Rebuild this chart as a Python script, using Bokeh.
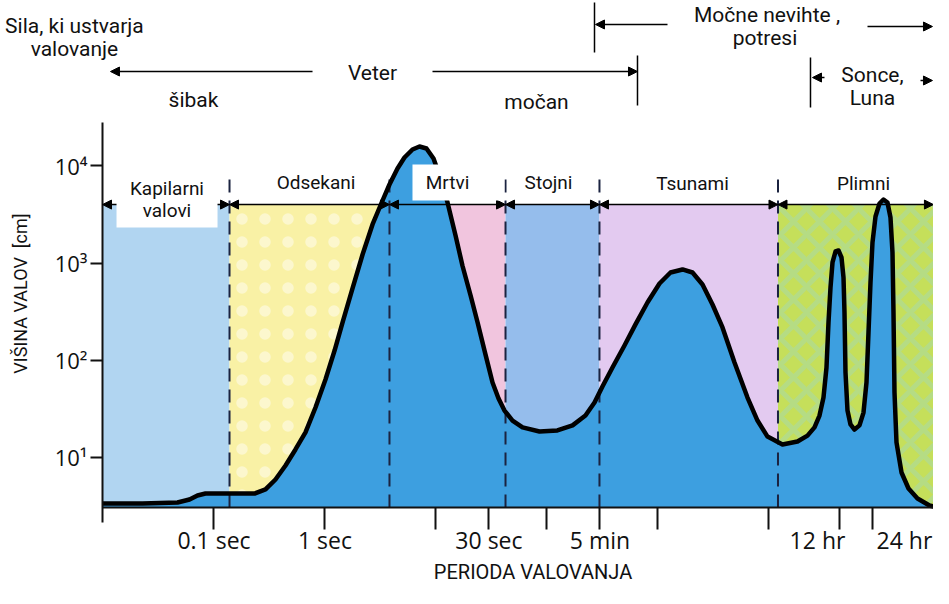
import math
from bokeh.plotting import figure
from bokeh.models import Range1d, FixedTicker, Label, Arrow, NormalHead, BoxAnnotation
from bokeh.embed import file_html
from bokeh.resources import INLINE

# ---------------- data ----------------
# wave period [s] and wave height [cm] along the energy curve
period_s = [0.0099, 0.0227, 0.0469, 0.0602, 0.0710, 0.0838, 0.147, 0.232, 0.291, 0.358,
            0.441, 0.542, 0.667, 0.821, 1.01, 1.22, 1.44, 1.77, 2.18, 2.68,
            3.30, 3.81, 4.50, 5.20, 6.14, 7.10, 8.21, 9.50, 11.0, 12.7,
            15.0, 17.3, 20.5, 23.7, 27.9, 32.3, 36.6, 41.4, 48.9, 60.2,
            85.6, 124, 170, 222, 268, 316, 389, 499, 627, 804,
            1032, 1296, 1663, 2046, 2518, 3097, 3812, 4890, 6402, 7877,
            9694, 13230, 18060, 22230, 25700, 28510, 30970, 32960, 34360, 35820,
            37340, 39730, 42290, 45000, 46910, 47880, 48890, 50960, 54240, 58930,
            65350, 71020, 75560, 78760, 82110, 85580, 91100, 98970, 107500, 116800,
            124300, 129600, 132300, 135100, 140800, 156200, 180700, 217700, 279200, 329600]
height_cm = [3.36, 3.36, 3.44, 3.70, 4.07, 4.26, 4.26, 4.26, 4.69, 5.94,
             8.28, 12.1, 18.1, 32.7, 63.5, 126, 245, 548, 1226, 2496,
             4406, 6436, 9404, 12200, 14750, 15830, 15100, 11920, 7421, 4202,
             1923, 945, 464, 245, 115, 59.1, 40.5, 30.4, 24.0, 20.4,
             18.5, 19.0, 21.4, 27.0, 36.8, 53.8, 84.3, 142, 234, 393,
             617, 800, 860, 800, 602, 375, 218, 94.9, 41.4, 24.0,
             16.4, 13.6, 14.6, 16.8, 20.4, 27.0, 41.4, 84.3, 245, 561,
             1015, 1316, 1348, 1142, 711, 310, 74.9, 30.4, 21.9, 19.4,
             21.4, 29.0, 59.1, 193, 632, 1629, 3016, 4105, 4511, 4202,
             2945, 1286, 310, 46.6, 14.3, 7.01, 4.80, 3.79, 3.21, 3.06]

band_names = ["Kapilarni", "Odsekani", "Mrtvi", "Stojni", "Tsunami", "Plimni"]
band_edges_s = [0.0099, 0.138, 3.81, 42.3, 297, 12050, 303000]
band_colors = ["#b1d5f1", "#f9f1a5", "#f1c5de", "#95bdec", "#e3caf0", "#c5df5a"]
band_top_cm = 4000

x_tick_values = [0.1, 1, 10, 30, 100, 300, 1000, 10000, 43200, 86400]
x_tick_labels = ["0.1 sec", "1 sec", "", "30 sec", "", "5 min", "", "", "", ""]
y_tick_values = [10, 100, 1000, 10000]
y_tick_labels = ["10¹", "10²", "10³", "10⁴"]

X_AXIS_AT = 3.06      # height at which the period axis is drawn
Y_AXIS_AT = 0.0099    # period at which the height axis is drawn

# ---------------- figure ----------------
p = figure(width=933, height=588, x_axis_type="log", y_axis_type="log",
           x_range=Range1d(0.001193, 303400), y_range=Range1d(0.449, 503000),
           output_backend="svg", toolbar_location=None,
           min_border_left=0, min_border_right=0, min_border_top=0, min_border_bottom=0)
p.outline_line_color = None
p.grid.visible = False
p.background_fill_color = "white"
p.border_fill_color = "white"

TXT = "Roboto"
TICKF = "Open Sans"
INK = "#111111"

# axes (drawn at fixed positions inside the frame)
p.xaxis.fixed_location = X_AXIS_AT
p.xaxis.bounds = (Y_AXIS_AT, 303400)
p.xaxis.ticker = FixedTicker(ticks=x_tick_values, minor_ticks=[])
p.xaxis.major_label_overrides = dict(zip(x_tick_values, x_tick_labels))
p.xaxis.major_tick_out = 22
p.xaxis.major_tick_in = 0
p.xaxis.major_tick_line_width = 2
p.xaxis.major_tick_line_color = INK
p.xaxis.axis_line_width = 2
p.xaxis.axis_line_color = INK
p.xaxis.major_label_text_font = TICKF
p.xaxis.major_label_text_font_size = "23px"
p.xaxis.major_label_text_color = INK
p.xaxis.major_label_standoff = -5
p.xaxis.minor_tick_line_color = None

p.yaxis.fixed_location = Y_AXIS_AT
p.yaxis.ticker = FixedTicker(ticks=y_tick_values, minor_ticks=[])
p.yaxis.major_label_overrides = dict(zip(y_tick_values, y_tick_labels))
p.yaxis.bounds = (2.15, 27960)
p.yaxis.major_tick_out = 12
p.yaxis.major_tick_in = 0
p.yaxis.major_tick_line_width = 2
p.yaxis.major_tick_line_color = INK
p.yaxis.axis_line_width = 2
p.yaxis.axis_line_color = INK
p.yaxis.major_label_text_font = TICKF
p.yaxis.major_label_text_font_size = "22px"
p.yaxis.major_label_text_color = INK
p.yaxis.major_label_standoff = 3
p.yaxis.minor_tick_line_color = None

# colored period bands
p.quad(left=band_edges_s[:-1], right=band_edges_s[1:], bottom=X_AXIS_AT, top=band_top_cm,
       fill_color=band_colors, line_color=None)
p.quad(left=[band_edges_s[1]], right=[band_edges_s[2]], bottom=X_AXIS_AT, top=band_top_cm,
       fill_alpha=0, line_color=None, hatch_pattern="dot", hatch_color="white",
       hatch_alpha=0.45, hatch_scale=23, hatch_weight=3)
p.quad(left=[band_edges_s[5]], right=[band_edges_s[6]], bottom=X_AXIS_AT, top=band_top_cm,
       fill_alpha=0, line_color=None, hatch_pattern="diagonal_cross", hatch_color="#8fd3e6",
       hatch_alpha=0.3, hatch_scale=26, hatch_weight=5)

# wave energy area
p.varea(x=period_s, y1=X_AXIS_AT, y2=height_cm, fill_color="#3d9fe0")

# dashed boundaries
inner = band_edges_s[1:-1]
p.segment(x0=inner, y0=[X_AXIS_AT] * len(inner), x1=inner, y1=[8550] * len(inner),
          line_dash="13 8", line_width=2, line_color="#1b2340")

# curve outline
p.line(period_s, height_cm, line_width=4.5, line_color="black", line_join="round")

# band arrows
for i in range(len(band_names)):
    p.add_layout(Arrow(x_start=band_edges_s[i], y_start=band_top_cm,
                       x_end=band_edges_s[i + 1], y_end=band_top_cm,
                       start=NormalHead(size=9, fill_color="black", line_color="black"),
                       end=NormalHead(size=9, fill_color="black", line_color="black"),
                       line_width=1.5, line_color="black"))

# white label boxes that sit on top of the coloured area
p.add_layout(BoxAnnotation(left=0.01324, right=0.1076, bottom=2323, top=10090,
                           fill_color="white", fill_alpha=1, line_color=None))
p.add_layout(BoxAnnotation(left=6.14, right=41.4, bottom=4400, top=10330,
                           fill_color="white", fill_alpha=1, line_color=None))


def lab(x, y, text, size="19px", angle=0.0, font=TXT):
    p.add_layout(Label(x=x, y=y, text=text, text_font=font, text_font_size=size,
                       text_align="center", text_baseline="middle", angle=angle,
                       text_color=INK))


# band labels
lab(0.0377, 5855, "Kapilarni")
lab(0.0377, 3475, "valovi")
lab(0.830, 6745, "Odsekani")
lab(12.7, 6745, "Mrtvi")
lab(103.2, 6745, "Stojni")
lab(2046, 6600, "Tsunami")
lab(71020, 6600, "Plimni")

# forces generating the waves
lab(0.00553, 278000, "Sila, ki ustvarja", "21px")
lab(0.00553, 157800, "valovanje", "21px")
lab(2.68, 89270, "Veter", "21px")
lab(0.0654, 48200, "šibak", "21px")
lab(80.4, 44900, "močan", "21px")
lab(9594, 361000, "Močne nevihte ,", "21px")
lab(9204, 204500, "potresi", "21px")
lab(85580, 87100, "Sonce,", "21px")
lab(85580, 50540, "Luna", "21px")


def arr(x0, x1, y):
    p.add_layout(Arrow(x_start=x0, y_start=y, x_end=x1, y_end=y,
                       end=NormalHead(size=9, fill_color="black", line_color="black"),
                       line_width=1.5, line_color="black"))


arr(0.772, 0.01168, 93500)
arr(9.30, 653.6, 93500)
arr(1218, 273.5, 285000)
arr(77170, 297000, 271600)
arr(31620, 24650, 81100)
arr(231700, 297000, 75600)

p.segment(x0=[653.6, 267.9, 23650], y0=[136700, 480000, 130300],
          x1=[653.6, 267.9, 23650], y1=[41820, 146800, 39880],
          line_width=1.5, line_color="black")

# period labels of the two tidal ticks (placed as in the original, beside their ticks)
lab(27350, 1.40, "12 hr", "23px", font=TICKF)
lab(166200, 1.40, "24 hr", "23px", font=TICKF)

# axis titles
lab(74.8, 0.656, "PERIODA VALOVANJA", "20px")
lab(0.001806, 486, "VIŠINA VALOV\u00a0\u00a0[cm]", "18px", angle=math.pi / 2)

open("out.html", "w").write(file_html(p, INLINE))
